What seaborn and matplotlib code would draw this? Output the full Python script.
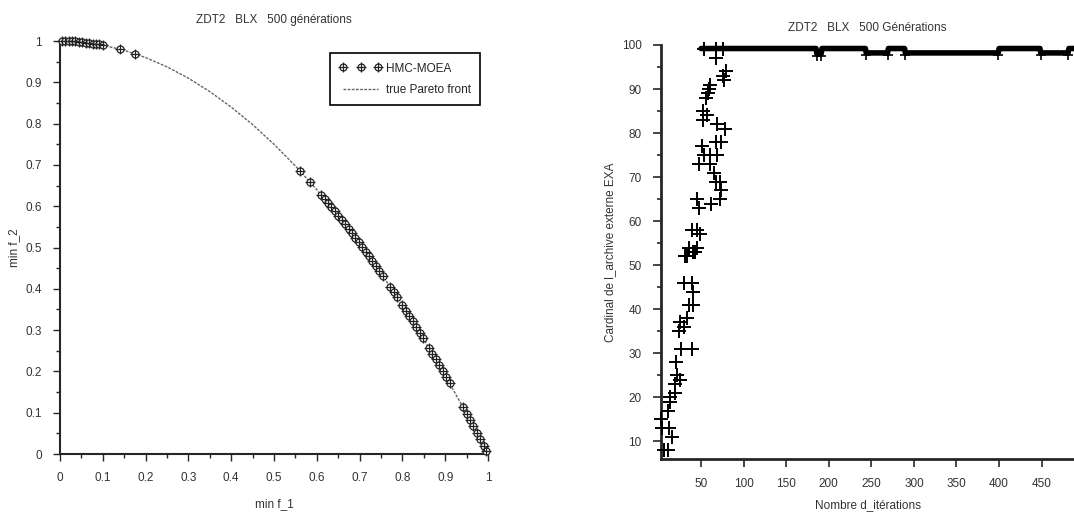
import numpy as np
import pandas as pd
import matplotlib
matplotlib.use("Agg")
import matplotlib.pyplot as plt
import seaborn as sns
from matplotlib.lines import Line2D
from matplotlib.legend_handler import HandlerTuple
from matplotlib.ticker import MultipleLocator

# ---------------- data: left panel (ZDT2 front) ----------------
hmc_f1 = [0.005, 0.012, 0.02, 0.028, 0.036, 0.044, 0.052, 0.06, 0.068, 0.076, 0.084, 0.092, 0.10,
          0.14, 0.175,
          0.56, 0.584,
          0.61, 0.618, 0.626, 0.634, 0.642, 0.65, 0.658, 0.666, 0.674, 0.682, 0.69, 0.698, 0.706,
          0.714, 0.722, 0.73, 0.738, 0.746, 0.754,
          0.772, 0.78, 0.788,
          0.80, 0.808, 0.816, 0.824, 0.832, 0.84, 0.848,
          0.862, 0.87, 0.878, 0.886, 0.894, 0.902, 0.91,
          0.942, 0.95, 0.958, 0.966, 0.974, 0.982, 0.99, 0.996]
hmc_f2 = [1.0, 1.0, 1.0, 0.999, 0.999, 0.998, 0.997, 0.996, 0.995, 0.994, 0.993, 0.992, 0.99,
          0.980, 0.969,
          0.686, 0.659,
          0.628, 0.618, 0.608, 0.598, 0.588, 0.577, 0.567, 0.556, 0.546, 0.535, 0.524, 0.513, 0.502,
          0.490, 0.479, 0.467, 0.455, 0.443, 0.431,
          0.404, 0.392, 0.379,
          0.360, 0.347, 0.334, 0.321, 0.308, 0.294, 0.281,
          0.257, 0.243, 0.229, 0.215, 0.201, 0.186, 0.172,
          0.113, 0.098, 0.082, 0.067, 0.051, 0.036, 0.020, 0.008]

front_f1 = [0.0, 0.05, 0.1, 0.15, 0.2, 0.25, 0.3, 0.35, 0.4, 0.45, 0.5,
            0.55, 0.6, 0.65, 0.7, 0.75, 0.8, 0.85, 0.9, 0.95, 1.0]
front_f2 = [1.0, 0.9975, 0.99, 0.9775, 0.96, 0.9375, 0.91, 0.8775, 0.84, 0.7975, 0.75,
            0.6975, 0.64, 0.5775, 0.51, 0.4375, 0.36, 0.2775, 0.19, 0.0975, 0.0]

# ---------------- data: right panel (archive size) ----------------
early_iter = [7, 11, 4, 12, 16, 3, 11, 14, 19, 13, 19, 22, 25, 21, 26, 39, 24, 30, 25, 34,
              36, 41, 41, 39, 30, 39, 31, 43, 33, 41, 45, 36, 39, 45, 49, 45, 47, 62, 72,
              73, 68, 72, 65, 47, 61, 53, 61, 69, 51, 68, 73, 78, 69, 52, 57, 52, 56, 58,
              59, 61, 76, 79, 77, 67, 54, 67, 76]
early_card = [8, 8, 13, 13, 11, 15, 17, 19, 21, 20, 23, 25, 24, 28, 31, 31, 35, 36, 37, 38,
              41, 41, 44, 46, 46, 46, 52, 53, 52, 53, 54, 54, 58, 58, 57, 65, 63, 64, 65,
              67, 69, 69, 71, 73, 73, 75, 75, 75, 77, 78, 78, 81, 82, 83, 84, 85, 88, 89,
              90, 91, 93, 94, 92, 97, 99, 99, 99]

# plateau after ~50 iterations, given as runs: start, end, archive size
run_start = [50, 186, 192, 244, 270, 290, 400, 449, 482]
run_end   = [185, 191, 243, 269, 289, 399, 448, 481, 488]
run_card  = [99.2, 98.0, 99.2, 98.2, 99.2, 98.2, 99.2, 98.2, 99.2]

# ---------------- build tables ----------------
df_pts = pd.DataFrame({"f1": hmc_f1, "f2": hmc_f2})
df_front = pd.DataFrame({"f1": front_f1, "f2": front_f2})
df_early = pd.DataFrame({"it": early_iter, "card": early_card})

plat_x, plat_y = [], []
for s, e, c in zip(run_start, run_end, run_card):
    plat_x += [s, e]
    plat_y += [c, c]
df_plat = pd.DataFrame({"it": plat_x, "card": plat_y})
dip_idx = [i for i, c in enumerate(run_card) if c < 99]
df_dip = pd.DataFrame({"it": [run_start[i] for i in dip_idx] + [run_end[i] for i in dip_idx],
                       "card": [run_card[i] - 0.5 for i in dip_idx] * 2})

# ---------------- style ----------------
sns.set_style("ticks")
plt.rcParams["font.family"] = ["Liberation Sans", "DejaVu Sans"]
txt = "#333333"

fig = plt.figure(figsize=(10.74, 5.13), dpi=100)
ax1 = fig.add_axes([0.0559, 0.115, 0.3985, 0.805])
ax2 = fig.add_axes([0.6155, 0.1053, 0.3845, 0.807])

# ---- left ----
sns.lineplot(data=df_front, x="f1", y="f2", ax=ax1, color="#666666", lw=1.0,
             linestyle=(0, (2, 1)), sort=False, zorder=2)
sns.scatterplot(data=df_pts, x="f1", y="f2", ax=ax1, marker="o", s=26,
                facecolor="white", edgecolor="#222222", linewidth=0.9, zorder=3, clip_on=False)
sns.scatterplot(data=df_pts, x="f1", y="f2", ax=ax1, marker="+", s=50,
                color="#222222", linewidth=0.9, zorder=4, clip_on=False)
ax1.set_xlim(0, 1)
ax1.set_ylim(0, 1)
ticks01 = np.round(np.arange(0, 1.01, 0.1), 1)
lbl01 = ["0", "0.1", "0.2", "0.3", "0.4", "0.5", "0.6", "0.7", "0.8", "0.9", "1"]
ax1.set_xticks(ticks01)
ax1.set_xticklabels(lbl01)
ax1.set_yticks(ticks01)
ax1.set_yticklabels(lbl01)
ax1.xaxis.set_minor_locator(MultipleLocator(0.05))
ax1.yaxis.set_minor_locator(MultipleLocator(0.05))
ax1.tick_params(which="major", length=5, width=1, direction="out", labelsize=8.5,
                labelcolor=txt, pad=8)
ax1.tick_params(which="minor", length=3, width=1, direction="out")
for sp in ["top", "right"]:
    ax1.spines[sp].set_visible(False)
for sp in ["left", "bottom"]:
    ax1.spines[sp].set_linewidth(1.5)
ax1.set_xlabel("min f_1", fontsize=8.5, color=txt, labelpad=10)
ax1.set_ylabel("min f_2", fontsize=8.5, color=txt, labelpad=4)
ax1.set_title("ZDT2   BLX   500 générations", fontsize=8.5, color=txt, pad=13)

hc = Line2D([], [], linestyle="none", marker="o", ms=5, mfc="white", mec="#222222", mew=0.9)
hp = Line2D([], [], linestyle="none", marker="+", ms=7, color="#222222", mew=0.9)
h2 = Line2D([], [], color="#666666", lw=1.0, linestyle=(0, (2, 1)))
leg = ax1.legend([(hc, hp), h2], ["HMC-MOEA", "true Pareto front"], loc="upper right",
                 bbox_to_anchor=(0.995, 0.985), numpoints=3, fontsize=8.5,
                 handler_map={tuple: HandlerTuple(ndivide=1, pad=0)},
                 fancybox=False, framealpha=1, edgecolor="black", handlelength=3.6,
                 handletextpad=0.3, borderpad=0.8, labelspacing=0.8)
leg.get_frame().set_linewidth(1.2)

# ---- right ----
sns.lineplot(data=df_plat, x="it", y="card", ax=ax2, color="black", lw=4,
             sort=False, zorder=3, clip_on=False)
sns.scatterplot(data=df_dip, x="it", y="card", ax=ax2, marker="+", s=60,
                color="black", linewidth=1.2, clip_on=False, zorder=3)
sns.scatterplot(data=df_early, x="it", y="card", ax=ax2, marker="+", s=110,
                color="black", linewidth=1.4, clip_on=False, zorder=3)
ax2.set_xlim(3, 488)
ax2.set_ylim(6, 100)
ax2.set_xticks([50, 100, 150, 200, 250, 300, 350, 400, 450])
ax2.set_yticks([10, 20, 30, 40, 50, 60, 70, 80, 90, 100])
ax2.yaxis.set_minor_locator(MultipleLocator(5))
ax2.tick_params(which="major", length=6, width=1.2, direction="out", labelsize=8.5,
                labelcolor=txt, pad=8)
ax2.tick_params(axis="y", which="minor", length=3, width=1.2, direction="out")
for sp in ["top", "right"]:
    ax2.spines[sp].set_visible(False)
for sp in ["left", "bottom"]:
    ax2.spines[sp].set_linewidth(2)
ax2.set_xlabel("Nombre d_itérations", fontsize=8.5, color=txt, labelpad=6)
ax2.set_ylabel("Cardinal de l_archive externe EXA", fontsize=8.5, color=txt, labelpad=4)
ax2.set_title("ZDT2   BLX   500 Générations", fontsize=8.5, color=txt, pad=10)

fig.savefig("out.png", dpi=100)
